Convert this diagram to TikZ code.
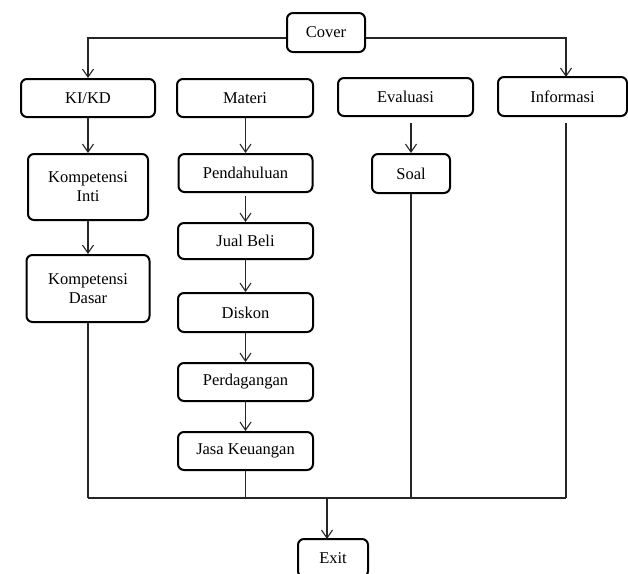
\documentclass[tikz,border=0pt]{standalone}
\usepackage{fontspec}
\setmainfont{Liberation Serif}
\usetikzlibrary{arrows.meta}
\begin{document}
\begin{tikzpicture}[x=1pt,y=-1pt,
  box/.style={draw, rounded corners=6pt, line width=2pt, inner sep=0pt, align=center,
    font=\fontsize{16.5}{19}\selectfont},
  conn/.style={line width=1.1pt, draw=black!85},
  arr/.style={conn, -{Straight Barb[length=8pt,width=11pt,line width=1.1pt]}}]
\useasboundingbox (0,0) rectangle (628,573);
\clip (0,0) rectangle (628,573);
% nodes
\node[box, minimum width=78pt,  minimum height=39pt] (cover)  at (326,32.5)  {Cover};
\node[box, minimum width=134pt, minimum height=38pt] (kikd)   at (88,98)     {KI/KD};
\node[box, minimum width=136pt, minimum height=38pt] (materi) at (245,98)    {Materi};
\node[box, minimum width=135pt, minimum height=38pt] (eval)   at (405.5,97)  {Evaluasi};
\node[box, minimum width=129pt, minimum height=39pt] (info)   at (562.5,96.5){Informasi};
\node[box, minimum width=120pt, minimum height=66pt] (ki)     at (88,187)    {Kompetensi\\Inti};
\node[box, minimum width=123pt, minimum height=67pt] (kd)     at (88,288.5)  {Kompetensi\\Dasar};
\node[box, minimum width=134pt, minimum height=38pt] (pend)   at (245.5,173) {Pendahuluan};
\node[box, minimum width=135pt, minimum height=36pt] (jual)   at (245.5,241) {Jual Beli};
\node[box, minimum width=135pt, minimum height=39pt] (diskon) at (245.5,312.5){Diskon};
\node[box, minimum width=135pt, minimum height=38pt] (perd)   at (245.5,382) {Perdagangan};
\node[box, minimum width=135pt, minimum height=38pt] (jasa)   at (245.5,451) {Jasa Keuangan};
\node[box, minimum width=78pt,  minimum height=39pt] (soal)   at (411,173.5) {Soal};
\node[box, minimum width=70pt,  minimum height=38pt] (exit)   at (333,558)   {Exit};
% helper coordinates
\coordinate (ly) at (0,38);
\coordinate (bus) at (0,498);
\coordinate (infoin) at (566,77);
\coordinate (exitin) at (327,539);
% connectors
\draw[arr] (cover.west |- ly) -| (kikd.north);
\draw[arr] (cover.east |- ly) -| (infoin);
\draw[arr] (kikd.south) -- (ki.north);
\draw[arr] (ki.south) -- (kd.north);
\draw[conn] (kd.south) -- (kd.south |- bus);
\draw[arr] (materi.south -| pend.north) -- (pend.north);
\draw[arr, shorten <=3pt] (pend.south) -- (jual.north);
\draw[arr] (jual.south) -- (diskon.north);
\draw[arr] (diskon.south) -- (perd.north);
\draw[arr] (perd.south) -- (jasa.north);
\draw[conn] (jasa.south) -- (jasa.south |- bus);
\draw[arr, shorten <=6pt] (eval.south -| soal.north) -- (soal.north);
\draw[conn] (soal.south) -- (soal.south |- bus);
\draw[conn, shorten <=6pt] (info.south -| infoin) -- (infoin |- bus);
\draw[conn] (kd.south |- bus) -- (infoin |- bus);
\draw[arr] (exitin |- bus) -- (exitin);
\end{tikzpicture}
\end{document}
